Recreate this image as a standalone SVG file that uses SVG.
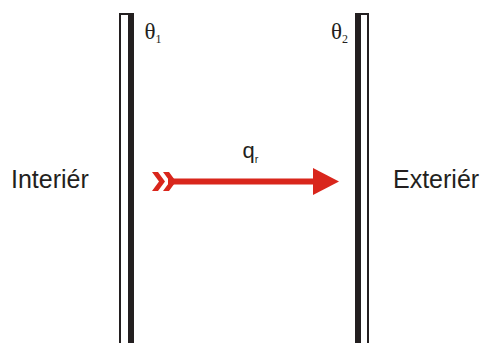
<svg xmlns="http://www.w3.org/2000/svg" width="485" height="343" viewBox="0 0 485 343">
<style>
.lbl{font-family:"Liberation Sans",Arial,sans-serif;fill:#231f20}
.th{font-family:"Liberation Serif","Times New Roman",serif;fill:#231f20}
.wall{fill:#231f20}
.red{fill:#d9261c}
</style>
<rect width="485" height="343" fill="#fff"/>
<g id="wall-left">
<rect class="wall" x="119" y="13" width="2" height="330"/>
<rect class="wall" x="119" y="13" width="15" height="2"/>
<rect class="wall" x="128" y="13" width="6" height="330"/>
</g>
<g id="wall-right">
<rect class="wall" x="355" y="13" width="6" height="330"/>
<rect class="wall" x="355" y="13" width="14" height="2"/>
<rect class="wall" x="367" y="13" width="2" height="330"/>
</g>
<g id="theta1">
<text class="th" x="144.5" y="38.5" font-size="23">θ<tspan font-size="12" dy="4.5">1</tspan></text>
</g>
<g id="theta2">
<text class="th" x="331" y="38.5" font-size="23">θ<tspan font-size="12" dy="4.5">2</tspan></text>
</g>
<g id="interior"><text class="lbl" x="11" y="188" font-size="25">Interiér</text></g>
<g id="exterior"><text class="lbl" x="393" y="188" font-size="25">Exteriér</text></g>
<g id="connectors">
<rect class="red" x="168" y="178.5" width="147" height="6"/>
<polygon class="red" points="313,168 339,181.5 313,195"/>
<polygon class="red" points="152,172 158,172 165,181.5 158,191 152,191 159,181.5"/>
<polygon class="red" points="163,172 169,172 176,181.5 169,191 163,191 170,181.5"/>
</g>
<g id="q-label">
<text class="lbl" x="242.5" y="157.5" font-size="22">q<tspan font-size="11" dy="5.5">r</tspan></text>
</g>
</svg>
